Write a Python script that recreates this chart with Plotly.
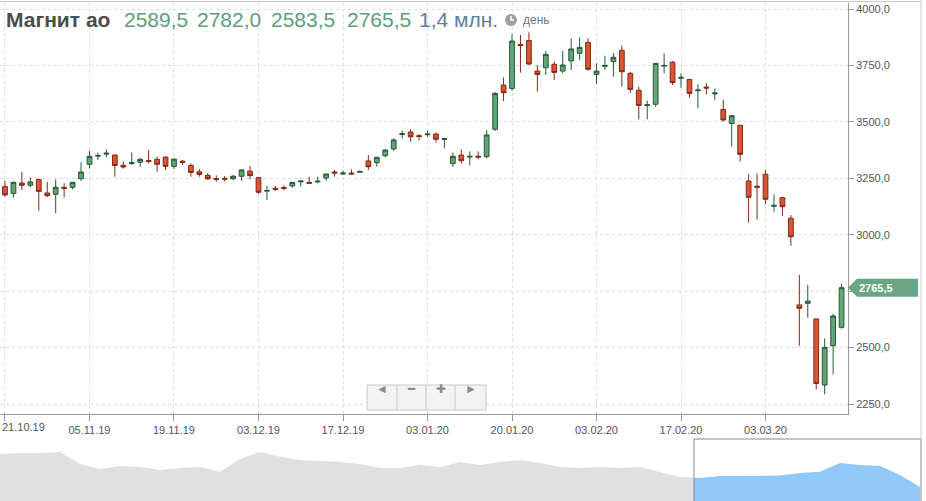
import plotly.graph_objects as go

# Магнит ао, daily candles 21.10.19 - 17.03.20 (x = trading day number)
opens = [3213, 3183, 3229, 3219, 3245, 3185, 3179, 3210, 3210, 3248,
         3312, 3348, 3357, 3353, 3307, 3315, 3321, 3329, 3334, 3344,
         3303, 3326, 3307, 3279, 3263, 3249, 3250, 3248, 3259, 3282,
         3253, 3193, 3206, 3209, 3216, 3234, 3232, 3234, 3251, 3278,
         3269, 3273, 3277, 3327, 3319, 3350, 3380, 3444, 3455, 3439,
         3443, 3446, 3422, 3315, 3353, 3344, 3348, 3346, 3467, 3663,
         3648, 3843, 3860, 3725, 3740, 3755, 3725, 3770, 3804, 3852,
         3710, 3746, 3767, 3817, 3715, 3640, 3572, 3578, 3747, 3764,
         3693, 3688, 3638, 3654, 3624, 3555, 3493, 3485, 3238, 3215,
         3268, 3126, 3164, 3073, 2689, 2696, 2627, 2334, 2508, 2589.5]
highs = [3239, 3236, 3278, 3254, 3247, 3234, 3245, 3228, 3234, 3321,
         3371, 3363, 3378, 3355, 3324, 3365, 3340, 3375, 3346, 3347,
         3337, 3331, 3316, 3291, 3273, 3263, 3260, 3265, 3290, 3304,
         3255, 3216, 3216, 3219, 3234, 3239, 3257, 3257, 3270, 3287,
         3284, 3290, 3285, 3353, 3345, 3380, 3427, 3461, 3467, 3446,
         3460, 3452, 3426, 3364, 3378, 3369, 3369, 3464, 3632, 3697,
         3888, 3885, 3897, 3752, 3814, 3767, 3814, 3870, 3874, 3870,
         3759, 3793, 3805, 3838, 3722, 3656, 3594, 3761, 3803, 3770,
         3715, 3690, 3666, 3671, 3648, 3597, 3529, 3487, 3268, 3272,
         3287, 3179, 3168, 3087, 2822, 2777, 2629, 2541, 2649, 2782]
lows = [3169, 3164, 3198, 3210, 3106, 3166, 3095, 3166, 3201, 3239,
        3293, 3331, 3343, 3257, 3293, 3309, 3301, 3316, 3279, 3287,
        3291, 3309, 3257, 3257, 3242, 3234, 3236, 3241, 3239, 3245,
        3180, 3154, 3194, 3197, 3208, 3213, 3225, 3228, 3239, 3257,
        3265, 3266, 3275, 3287, 3301, 3343, 3372, 3427, 3412, 3417,
        3434, 3409, 3383, 3301, 3316, 3307, 3334, 3338, 3460, 3592,
        3638, 3718, 3754, 3634, 3708, 3685, 3715, 3730, 3774, 3727,
        3668, 3730, 3700, 3656, 3629, 3511, 3511, 3567, 3715, 3663,
        3651, 3607, 3560, 3622, 3597, 3501, 3390, 3324, 3053, 3068,
        3135, 3102, 3084, 2951, 2508, 2632, 2315, 2293, 2381, 2583.5]
closes = [3176, 3232, 3219, 3234, 3192, 3173, 3210, 3205, 3232, 3278,
          3347, 3351, 3361, 3307, 3300, 3320, 3334, 3324, 3312, 3303,
          3335, 3321, 3276, 3267, 3248, 3245, 3246, 3259, 3287, 3262,
          3188, 3196, 3201, 3205, 3232, 3238, 3228, 3237, 3269, 3273,
          3273, 3269, 3280, 3301, 3343, 3375, 3420, 3448, 3434, 3435,
          3446, 3423, 3426, 3347, 3328, 3347, 3344, 3442, 3626, 3629,
          3858, 3838, 3756, 3710, 3799, 3719, 3752, 3823, 3830, 3733,
          3725, 3750, 3786, 3722, 3644, 3573, 3576, 3759, 3750, 3674,
          3697, 3626, 3641, 3650, 3628, 3508, 3527, 3356, 3166, 3210,
          3157, 3130, 3124, 2991, 2674, 2706, 2341, 2501, 2640, 2765.5]

date_labels = ['21.10.19', '05.11.19', '19.11.19', '03.12.19', '17.12.19',
               '03.01.20', '20.01.20', '03.02.20', '17.02.20', '03.03.20']
price_ticks = [2250, 2500, 2750, 3000, 3250, 3500, 3750, 4000]

# navigator: long history of closes
nav_close = [4080, 4120, 4120, 4160, 3680, 3480, 3600, 3560, 3440, 3520,
             3560, 3372, 3880, 4172, 3972, 3840, 3800, 3760, 3680, 3520,
             3520, 3640, 3560, 3760, 3640, 3760, 3840, 3720, 3560, 3520,
             3560, 3520, 3560, 3360, 3160, 3120, 3200, 3200, 3200, 3220,
             3320, 3372, 3720, 3640, 3600, 3240, 2760]

W, H = 926, 501
FONT = 'Liberation Sans, Arial, sans-serif'
UP, DOWN = '#62a677', '#dc5432'


def fmt(v):
    return f'{v:.1f}'.replace('.', ',')


days = list(range(len(closes)))
tick_pos = [days[i * 10] for i in range(len(date_labels))]
# first date label does not fit centred under its tick, drawn separately
tick_text = [''] + date_labels[1:]
price_text = ['' if v == 2750 else f'{v},0' for v in price_ticks]

fig = go.Figure()
fig.add_trace(go.Candlestick(
    x=days, open=opens, high=highs, low=lows, close=closes,
    increasing=dict(fillcolor=UP, line=dict(color='#26583a', width=1)),
    decreasing=dict(fillcolor=DOWN, line=dict(color='#7e2c18', width=1)),
    whiskerwidth=0, showlegend=False, hoverinfo='skip'))

nav_x = list(range(len(nav_close)))
fig.add_trace(go.Scatter(x=nav_x, y=nav_close, xaxis='x2', yaxis='y2', mode='lines',
                         line=dict(width=0, color='#dedede'), fill='tozeroy',
                         fillcolor='#e0e0e0', showlegend=False, hoverinfo='skip'))
fig.add_trace(go.Scatter(x=nav_x, y=nav_close, xaxis='x3', yaxis='y2', mode='lines',
                         line=dict(width=0, color='#90c8fa'), fill='tozeroy',
                         fillcolor='#90c8fa', showlegend=False, hoverinfo='skip'))

main_bottom = (H - 414) / H
main_top = (H - 3) / H
nav_top = (H - 440) / H
split = 694 / W

fig.update_layout(
    width=W, height=H, margin=dict(l=0, r=0, t=0, b=0),
    paper_bgcolor='white', plot_bgcolor='white',
    font=dict(family=FONT, size=11, color='#555555'),
    boxgap=0.2,
    xaxis=dict(domain=[0, 848 / W], range=[-0.59, 99.76], rangeslider=dict(visible=False),
               tickmode='array', tickvals=tick_pos, ticktext=tick_text,
               showgrid=True, gridcolor='#dddddd', griddash='dot', gridwidth=1,
               showline=True, linecolor='#999999', ticks='outside', ticklen=6,
               tickcolor='#999999', zeroline=False, fixedrange=True),
    yaxis=dict(domain=[main_bottom, main_top], range=[2205.7, 4026.6], side='right',
               tickmode='array', tickvals=price_ticks, ticktext=price_text,
               showgrid=True, gridcolor='#dddddd', griddash='dot', gridwidth=1,
               showline=True, linecolor='#999999', ticks='outside', ticklen=5,
               tickcolor='#999999', zeroline=False, fixedrange=True),
    xaxis2=dict(domain=[0, split], range=[0, 34.7], visible=False, fixedrange=True),
    xaxis3=dict(domain=[split, 921 / W], range=[34.7, 46.05], visible=False, fixedrange=True,
                anchor='y2'),
    yaxis2=dict(domain=[0, nav_top], range=[2200, 4640], visible=False, fixedrange=True,
                anchor='x2'),
)

fig.add_annotation(xref='paper', yref='paper', x=0, y=(H - 427) / H, xanchor='left',
                   yanchor='middle', text=date_labels[0], showarrow=False,
                   font=dict(size=11, color='#555555'))

# navigator window frame and borders
fig.add_shape(type='rect', xref='paper', yref='paper', x0=split, x1=921 / W,
              y0=-0.01, y1=(H - 439) / H, line=dict(color='#888888', width=1))
fig.add_shape(type='line', xref='paper', yref='paper', x0=921 / W, x1=921 / W,
              y0=nav_top, y1=1, line=dict(color='#cccccc', width=1))
fig.add_shape(type='line', xref='paper', yref='paper', x0=0, x1=921 / W,
              y0=(H - 1.5) / H, y1=(H - 1.5) / H, line=dict(color='#cccccc', width=1))

# last price tag
last = closes[-1]
half = 9 * (4026.6 - 2205.7) / 411
tip, body0, body1 = 848 / W, 857 / W, 918 / W
fig.add_shape(type='path', xref='paper', yref='y', fillcolor='#6ba684', line=dict(width=0),
              path=f'M {tip},{last} L {body0},{last + half} L {body1},{last + half} '
                   f'L {body1},{last - half} L {body0},{last - half} Z')
fig.add_annotation(xref='paper', yref='y', x=857 / W, y=last, xanchor='left', yanchor='middle',
                   text=f'<b>{fmt(last)}</b>', showarrow=False,
                   font=dict(color='white', size=11, family=FONT))

# zoom / scroll buttons
bx0, bx1 = 367 / W, 486 / W
by0, by1 = (H - 410) / H, (H - 385) / H
fig.add_shape(type='rect', xref='paper', yref='paper', x0=bx0, x1=bx1, y0=by0, y1=by1,
              fillcolor='#f3f3f3', line=dict(color='#c8c8c8', width=1))
for px in [397, 426, 455]:
    fig.add_shape(type='line', xref='paper', yref='paper', x0=px / W, x1=px / W,
                  y0=by0, y1=by1, line=dict(color='#c8c8c8', width=1))
for sym, px in [('◄', 382), ('━', 411.5), ('✚', 440.5), ('►', 470.5)]:
    fig.add_annotation(xref='paper', yref='paper', x=px / W, y=(by0 + by1) / 2,
                       text=sym, showarrow=False, font=dict(color='#8a8a8a', size=12))

# header: name, O H L C, volume, period
ty = (H - 20) / H
header = [('<b>Магнит ао</b>', 4, '#4d4d4d', 21)]
for v, px in zip([opens[-1], highs[-1], lows[-1], closes[-1]], [122, 195, 269, 345]):
    header.append((fmt(v), px, '#5c9e7c', 21))
header.append(('1,4 млн.', 417, '#5d7d9e', 21))
header.append(('день', 521, '#777777', 12))
for text, px, color, size in header:
    fig.add_annotation(xref='paper', yref='paper', x=px / W, y=ty, xanchor='left',
                       yanchor='middle', text=text, showarrow=False,
                       font=dict(family=FONT, size=size, color=color))
# clock icon
cy = H - 20
fig.add_shape(type='circle', xref='paper', yref='paper', x0=505 / W, x1=517 / W,
              y0=(cy - 6) / H, y1=(cy + 6) / H, fillcolor='#a0a0a0', line=dict(width=0))
fig.add_shape(type='path', xref='paper', yref='paper', line=dict(color='white', width=1.5),
              path=f'M {511 / W},{(cy + 4) / H} L {511 / W},{cy / H} L {514 / W},{cy / H}')

fig.write_html('out.html', config={'displayModeBar': False},
               post_script="document.body.style.margin='0';")
